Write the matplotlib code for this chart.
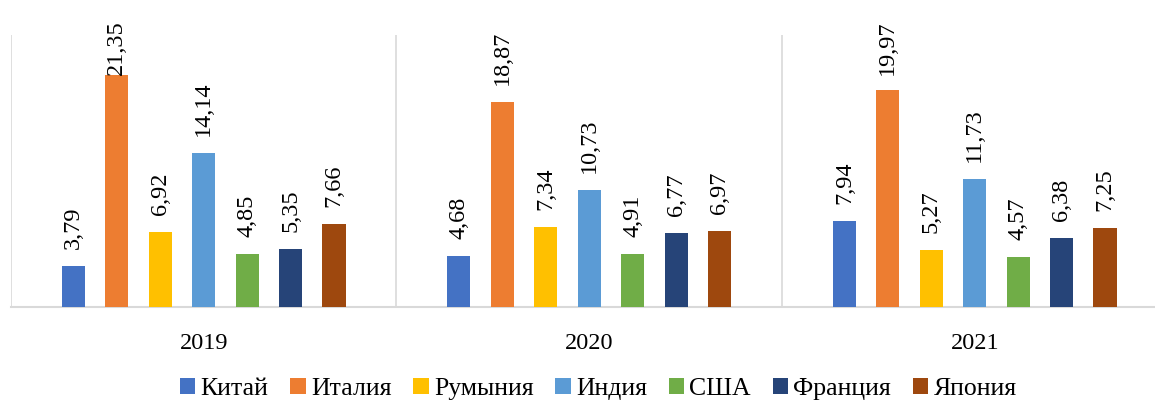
import matplotlib
matplotlib.use("Agg")
from matplotlib import pyplot as plt
import numpy as np

# данные
years = ["2019", "2020", "2021"]
countries = ["Китай", "Италия", "Румыния", "Индия", "США", "Франция", "Япония"]
china = [3.79, 4.68, 7.94]
italy = [21.35, 18.87, 19.97]
romania = [6.92, 7.34, 5.27]
india = [14.14, 10.73, 11.73]
usa = [4.85, 4.91, 4.57]
france = [5.35, 6.77, 6.38]
japan = [7.66, 6.97, 7.25]
colors = ["#4472C4", "#ED7D31", "#FFC000", "#5B9BD5", "#70AD47", "#264478", "#9E480E"]

series = [china, italy, romania, india, usa, france, japan]

plt.rcParams['font.family'] = ['Liberation Serif', 'DejaVu Serif']

fig = plt.figure(figsize=(11.55, 4.05), dpi=100)
ax = fig.add_axes([0.0095, 0.242, 1.0013, 0.672])

step = 0.1127
width = 0.06
x = np.arange(len(years))
for i, (vals, name, c) in enumerate(zip(series, countries, colors)):
    pos = x + (i - 3) * step
    ax.bar(pos, vals, width=width, color=c, label=name, zorder=3)
    for p, v in zip(pos, vals):
        # подпись над столбцом, но не выше верхнего края
        yl = min(v + 1.55, 21.3)
        ax.text(p, yl, "{:.2f}".format(v).replace(".", ","), rotation=90,
                ha="center", va="bottom", fontsize=17.5, zorder=4)

ax.set_xlim(-0.5, 2.5)
ax.set_ylim(0, 25)
ax.set_xticks(x)
ax.set_xticklabels(years, fontsize=17.5)
ax.tick_params(axis="x", which="both", length=0, pad=19)
ax.set_yticks([])
# разделители групп
ax.set_xticks([-0.5, 0.5, 1.5, 2.5], minor=True)
ax.grid(axis="x", which="minor", color="#d9d9d9", linewidth=1.2, zorder=0)
for s in ["top", "right", "left"]:
    ax.spines[s].set_visible(False)
ax.spines["bottom"].set_color("#d9d9d9")
ax.spines["bottom"].set_linewidth(1.5)

fig.legend(loc="lower center", bbox_to_anchor=(0.518, -0.045), ncol=7, frameon=False,
           fontsize=18.5, handlelength=0.6, handleheight=0.6, handletextpad=0.2,
           columnspacing=0.85)

plt.savefig("out.png", dpi=100)
